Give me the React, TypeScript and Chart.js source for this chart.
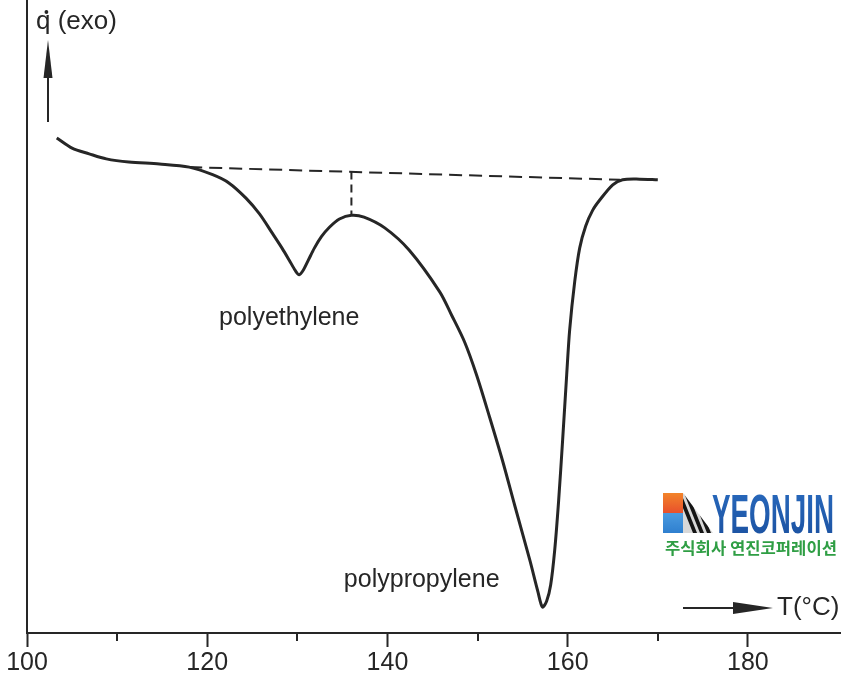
import React, { useEffect, useRef } from 'react';
import { Chart, registerables } from 'chart.js';

Chart.register(...registerables);

// DSC curve (temperature in °C, heat flow in arbitrary units, exo up)
const temperatureC = [
  103.3, 105.0, 106.9, 108.8, 111.3, 114.7, 118.0, 120.6, 122.4, 124.3, 125.8, 127.2,
  128.3, 129.1, 129.8, 130.2, 130.67, 131.22, 131.89, 132.67, 133.56, 134.67, 136.0, 137.4,
  139.7, 142.4, 145.8, 147.11, 148.56, 149.89, 151.33, 152.78, 154.11, 155.8, 156.7, 157.2,
  157.67, 158.11, 158.56, 159.0, 159.44, 159.89, 160.22, 160.78, 161.33, 162.0, 162.78, 163.56,
  165.0, 166.1, 168.0, 170.0,
];
const heatFlow = [
  78.2, 76.6, 75.7, 74.9, 74.4, 74.1, 73.6, 72.4, 71.1, 68.7, 66.2, 63.2,
  60.8, 58.9, 57.2, 56.6, 57.35, 58.9, 60.8, 62.6, 64.1, 65.4, 66.0, 65.7,
  64.0, 60.5, 53.9, 50.24, 45.97, 40.76, 34.12, 27.17, 20.22, 11.5, 6.5, 4.1,
  5.06, 7.58, 13.1, 21.0, 30.5, 40.8, 47.9, 55.5, 60.8, 64.3, 66.8, 68.4,
  70.8, 71.6, 71.7, 71.6,
];

// Dashed baseline and peak-separation marker
const baselineT = [118.0, 165.8];
const baselineQ = [73.6, 71.6];
const markerT = [136.0, 136.0];
const markerQ = [72.9, 66.0];

// Axis ticks
const majorTicks = [100, 120, 140, 160, 180];
const minorTicks = [110, 130, 150, 170];

// Peak annotations
const peakNames = ['polyethylene', 'polypropylene'];
const peakNameT = [129.1, 143.8];
const peakNameQ = [49.8, 8.4];

const yTitle = '(exo)';
const xTitle = 'T(°C)';

const INK = '#262626';
const FONT = '"Liberation Sans", Arial, Helvetica, sans-serif';

const decor = {
  id: 'decor',
  afterDraw(chart: any) {
    const { ctx, chartArea, scales } = chart;
    const x = scales.x;
    const y = scales.y;
    ctx.save();
    // minor ticks
    ctx.strokeStyle = INK;
    ctx.lineWidth = 2;
    minorTicks.forEach((v) => {
      const px = Math.round(x.getPixelForValue(v));
      ctx.beginPath();
      ctx.moveTo(px, chartArea.bottom);
      ctx.lineTo(px, chartArea.bottom + 8);
      ctx.stroke();
    });

    // peak names
    ctx.fillStyle = INK;
    ctx.font = `25px ${FONT}`;
    ctx.textAlign = 'center';
    ctx.textBaseline = 'middle';
    peakNames.forEach((n, i) => {
      ctx.fillText(n, x.getPixelForValue(peakNameT[i]), y.getPixelForValue(peakNameQ[i]));
    });

    // y title: q-dot (exo)
    const l = chartArea.left;
    ctx.font = `26px ${FONT}`;
    ctx.textAlign = 'left';
    ctx.textBaseline = 'alphabetic';
    const qx = l + 9;
    const base = 29;
    ctx.fillText('q', qx, base);
    const qw = ctx.measureText('q').width;
    ctx.fillText(yTitle, qx + qw + ctx.measureText(' ').width, base);
    ctx.beginPath();
    ctx.arc(qx + qw * 0.72, base - 17, 1.9, 0, Math.PI * 2);
    ctx.fill();

    // vertical arrow
    const ax = l + 21;
    ctx.lineWidth = 2;
    ctx.beginPath();
    ctx.moveTo(ax, 122);
    ctx.lineTo(ax, 70);
    ctx.stroke();
    ctx.beginPath();
    ctx.moveTo(ax, 40);
    ctx.lineTo(ax - 4.5, 78);
    ctx.lineTo(ax + 4.5, 78);
    ctx.closePath();
    ctx.fill();

    // horizontal arrow + T label
    const ay = chartArea.bottom - 25;
    ctx.beginPath();
    ctx.moveTo(683, ay);
    ctx.lineTo(740, ay);
    ctx.stroke();
    ctx.beginPath();
    ctx.moveTo(773, ay);
    ctx.lineTo(733, ay - 6);
    ctx.lineTo(733, ay + 6);
    ctx.closePath();
    ctx.fill();
    ctx.font = `26px ${FONT}`;
    ctx.textBaseline = 'middle';
    ctx.fillText(xTitle, 777, ay);
    ctx.restore();
  },
};

function Logo() {
  return (
    <svg width={182} height={72} style={{ position: 'absolute', left: 661, top: 488 }}>
      <defs>
        <linearGradient id="og" x1="0" y1="0" x2="0" y2="1">
          <stop offset="0" stopColor="#f2842a" />
          <stop offset="1" stopColor="#e8502c" />
        </linearGradient>
        <linearGradient id="bg" x1="0" y1="0" x2="0" y2="1">
          <stop offset="0" stopColor="#4a9be0" />
          <stop offset="1" stopColor="#2f7fcf" />
        </linearGradient>
        <linearGradient id="yg" x1="0" y1="0" x2="0" y2="1">
          <stop offset="0" stopColor="#2a6cc0" />
          <stop offset="1" stopColor="#1a4f9e" />
        </linearGradient>
        <clipPath id="tri">
          <polygon points="22,5 52,45 22,45" />
        </clipPath>
      </defs>
      <rect x={2} y={5} width={20} height={20} fill="url(#og)" />
      <rect x={2} y={25} width={20} height={20} fill="url(#bg)" />
      <g clipPath="url(#tri)">
        <rect x={22} y={5} width={30} height={40} fill="#d8d8d8" />
        {[0, 1, 2, 3, 4, 5].map((i) => (
          <polygon key={i} points={`${16 + i * 7},5 ${20 + i * 7},5 ${36 + i * 7},45 ${32 + i * 7},45`} fill="#151515" />
        ))}
      </g>
      <text x={51} y={45} fontFamily={FONT} fontWeight="bold" fontSize={56} fill="url(#yg)"
        textLength={122} lengthAdjust="spacingAndGlyphs">YEONJIN</text>
      <text x={4} y={66} fontFamily='"Noto Sans CJK KR", sans-serif' fontWeight="bold" fontSize={16}
        fill="#2f9e44" textLength={172} lengthAdjust="spacingAndGlyphs">주식회사 연진코퍼레이션</text>
    </svg>
  );
}

export default function App() {
  const ref = useRef<HTMLCanvasElement>(null);
  useEffect(() => {
    const chart = new Chart(ref.current as HTMLCanvasElement, {
      type: 'line',
      data: {
        datasets: [
          {
            data: temperatureC.map((t, i) => ({ x: t, y: heatFlow[i] })),
            borderColor: INK,
            borderWidth: 3,
            pointRadius: 0,
            tension: 0.3,
            fill: false,
          },
          {
            data: baselineT.map((t, i) => ({ x: t, y: baselineQ[i] })),
            borderColor: INK,
            borderWidth: 2,
            borderDash: [13, 7],
            pointRadius: 0,
            fill: false,
          },
          {
            data: markerT.map((t, i) => ({ x: t, y: markerQ[i] })),
            borderColor: INK,
            borderWidth: 2,
            borderDash: [8, 5],
            pointRadius: 0,
            fill: false,
          },
        ],
      },
      options: {
        responsive: false,
        maintainAspectRatio: false,
        animation: false,
        layout: { padding: { left: 27, right: 0, top: 0, bottom: -4 } },
        plugins: { legend: { display: false }, tooltip: { enabled: false } },
        scales: {
          x: {
            type: 'linear',
            min: 100,
            max: 190.33,
            afterBuildTicks: (s: any) => {
              s.ticks = majorTicks.map((v) => ({ value: v }));
            },
            ticks: {
              color: INK,
              font: { family: FONT, size: 25, lineHeight: 1 },
              padding: 4,
              maxRotation: 0,
              autoSkip: false,
            },
            grid: { drawOnChartArea: false, drawTicks: true, tickLength: 14, tickWidth: 2, tickColor: INK },
            border: { display: true, color: INK, width: 2 },
          },
          y: {
            min: 0,
            max: 100,
            ticks: { display: false },
            grid: { drawOnChartArea: false, drawTicks: false },
            border: { display: true, color: INK, width: 2 },
          },
        },
      } as any,
      plugins: [decor],
    });
    return () => chart.destroy();
  }, []);
  return (
    <div style={{ position: 'absolute', left: 0, top: 0, width: 841, height: 676, background: '#fff' }}>
      <canvas ref={ref} width={841} height={676} style={{ display: 'block' }} />
      <Logo />
    </div>
  );
}
